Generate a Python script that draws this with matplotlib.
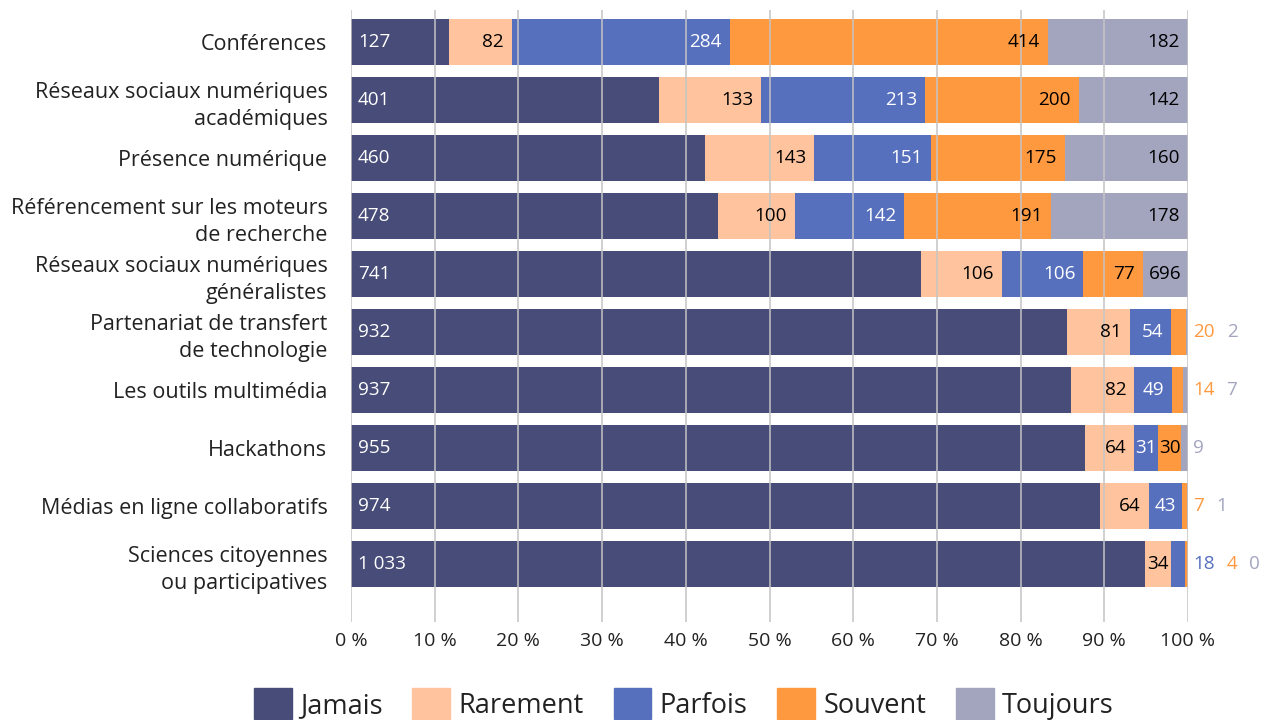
import matplotlib
matplotlib.use("Agg")
import matplotlib.pyplot as plt
from matplotlib.patches import Rectangle
from matplotlib.font_manager import FontProperties

# Survey: how often each outreach channel is used (number of respondents)
categories = [
    "Conférences",
    "Réseaux sociaux numériques\nacadémiques",
    "Présence numérique",
    "Référencement sur les moteurs\nde recherche",
    "Réseaux sociaux numériques\ngénéralistes",
    "Partenariat de transfert\nde technologie",
    "Les outils multimédia",
    "Hackathons",
    "Médias en ligne collaboratifs",
    "Sciences citoyennes\nou participatives",
]
series_names = ["Jamais", "Rarement", "Parfois", "Souvent", "Toujours"]
jamais   = [127, 401, 460, 478, 741, 932, 937, 955, 974, 1033]
rarement = [82, 133, 143, 100, 106, 81, 82, 64, 64, 34]
parfois  = [284, 213, 151, 142, 106, 54, 49, 31, 43, 18]
souvent  = [414, 200, 175, 191, 77, 20, 14, 30, 7, 4]
toujours = [182, 142, 160, 178, 696, 2, 7, 9, 1, 0]
n_respondents = 1089
x_ticks = [0, 10, 20, 30, 40, 50, 60, 70, 80, 90, 100]

series = [jamais, rarement, parfois, souvent, toujours]
colors = ["#474c78", "#ffc49e", "#5670be", "#ff9940", "#a3a5bf"]
inside_text = ["white", "black", "white", "black", "black"]

plt.rcParams["font.family"] = ["Open Sans", "DejaVu Sans"]

W, H = 1269, 720
fig = plt.figure(figsize=(W / 100, H / 100), dpi=100)
ax_left, ax_right, ax_top, ax_bottom = 351, 1188, 10, 622
ax = fig.add_axes([ax_left / W, 1 - ax_bottom / H,
                   (ax_right - ax_left) / W, (ax_bottom - ax_top) / H])

rows = list(range(len(categories)))
ax.set_xlim(0, 1)
ax.set_ylim(len(categories) - 1 + 1.0, -0.552)
px_per_unit = ax_right - ax_left

renderer = fig.canvas.get_renderer()


def fmt(v):
    return f"{v:,}".replace(",", " ")


def text_width(s, size):
    t = fig.text(0, 0, s, fontsize=size)
    w = t.get_window_extent(renderer).width
    t.remove()
    return w


label_size = 13.6
pad_px = 8
outside = {r: [] for r in rows}
lefts = [0.0] * len(rows)
for k, (vals, col) in enumerate(zip(series, colors)):
    widths = [v / n_respondents for v in vals]
    ax.barh(rows, widths, left=lefts, height=0.79, color=col,
            edgecolor="none", zorder=1, label=series_names[k])
    for r in rows:
        start = lefts[r]
        end = min(start + widths[r], 1.0)
        seg_px = (end - start) * px_per_unit
        s = fmt(vals[r])
        tw = text_width(s, label_size)
        if seg_px >= tw - 2:
            if k == 0:
                ax.annotate(s, (start, r), xytext=(7, 0), textcoords="offset pixels",
                            ha="left", va="center", color=inside_text[k],
                            fontsize=label_size, zorder=4)
            elif seg_px - tw < 2 * pad_px:
                ax.annotate(s, ((start + end) / 2, r), ha="center", va="center",
                            color=inside_text[k], fontsize=label_size, zorder=4)
            else:
                ax.annotate(s, (end, r), xytext=(-pad_px, 0), textcoords="offset pixels",
                            ha="right", va="center", color=inside_text[k],
                            fontsize=label_size, zorder=4)
        else:
            outside[r].append((s, col, tw))
        lefts[r] = start + widths[r]

# Values of segments too thin to hold their label, listed right of the bar
for r in rows:
    cur = 5
    for s, col, tw in outside[r]:
        ax.annotate(s, (1.0, r), xytext=(cur, 0), textcoords="offset pixels",
                    ha="left", va="center", color=col, fontsize=label_size,
                    annotation_clip=False, zorder=4)
        cur += tw + 12

ax.set_yticks(rows)
ax.set_yticklabels(categories, fontsize=15.5, color="#222222", linespacing=1.4)
ax.tick_params(axis="y", length=0, pad=17)

ax.set_xticks([t / 100 for t in x_ticks])
ax.set_xticklabels([f"{t} %" for t in x_ticks], fontsize=14, color="#222222")
ax.tick_params(axis="x", length=0, pad=7)
ax.xaxis.grid(True, color="#c4c4c4", linewidth=1.1, zorder=2)
ax.set_axisbelow(False)
for sp in ax.spines.values():
    sp.set_visible(False)

handles = [Rectangle((0, 0), 1, 1, color=c) for c in colors]
leg_font = FontProperties(family="Open Sans", size=19.5)
leg = fig.legend(handles, series_names, ncol=5, loc="center left",
                 bbox_to_anchor=(254 / W, 1 - 704 / H), frameon=False,
                 prop=leg_font, handlelength=1.4, handleheight=1.4,
                 handletextpad=0.3, columnspacing=1.1,
                 borderpad=0, borderaxespad=0)
for t in leg.get_texts():
    t.set_color("#222222")

fig.savefig("out.png", dpi=100)
